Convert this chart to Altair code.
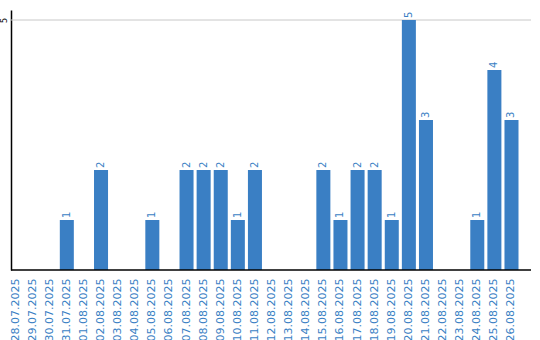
import altair as alt
import pandas as pd

dates = ["28.07.2025", "29.07.2025", "30.07.2025", "31.07.2025", "01.08.2025",
         "02.08.2025", "03.08.2025", "04.08.2025", "05.08.2025", "06.08.2025",
         "07.08.2025", "08.08.2025", "09.08.2025", "10.08.2025", "11.08.2025",
         "12.08.2025", "13.08.2025", "14.08.2025", "15.08.2025", "16.08.2025",
         "17.08.2025", "18.08.2025", "19.08.2025", "20.08.2025", "21.08.2025",
         "22.08.2025", "23.08.2025", "24.08.2025", "25.08.2025", "26.08.2025"]
values = [0, 0, 0, 1, 0, 2, 0, 0, 1, 0, 2, 2, 2, 1, 2, 0, 0, 0, 2, 1,
          2, 2, 1, 5, 3, 0, 0, 1, 4, 3]
grid_values = [5]

df = pd.DataFrame({"date": dates, "value": values})
grid_df = pd.DataFrame({"g": grid_values})
BLUE = "#3a7fc4"

x = alt.X("date:N", sort=dates, title=None,
          scale=alt.Scale(range=[-2.5, 507.5], paddingInner=0.18, paddingOuter=0),
          axis=alt.Axis(labelAngle=270, labelColor=BLUE, labelFontSize=11,
                        labelFont="DejaVu Sans", ticks=False, domain=False,
                        labelPadding=8, labelOverlap=False))
yscale = alt.Scale(domain=[0, 5.2], nice=False, zero=True)
yaxis = alt.Axis(values=[5], labelAngle=270, labelFontSize=8, labelColor="black",
                 labelFont="DejaVu Sans", ticks=False, domainColor="black",
                 domainWidth=1.5, grid=False, labelPadding=3,
                 labelAlign="center", labelBaseline="bottom")

grid = alt.Chart(grid_df).mark_rule(color="#c8c8c8", strokeWidth=1).encode(
    y=alt.Y("g:Q", scale=yscale, axis=yaxis, title=None),
    x=alt.value(0), x2=alt.value(520))
bars = alt.Chart(df).mark_bar(color=BLUE).encode(
    x=x, y=alt.Y("value:Q", title=None, scale=yscale, axis=yaxis))
labels = alt.Chart(df).transform_filter("datum.value > 0").mark_text(
    angle=270, align="left", baseline="middle", dx=2, fontSize=10,
    color=BLUE, font="DejaVu Sans").encode(
    x=x, y=alt.Y("value:Q", title=None, scale=yscale, axis=yaxis), text="value:Q")
xline = alt.Chart(grid_df).mark_rule(color="black", strokeWidth=1.5).encode(
    y=alt.value(260), x=alt.value(0), x2=alt.value(520))

chart = (grid + bars + labels + xline).properties(
    width=520, height=260,
    autosize=alt.AutoSizeParams(type="none"),
    padding={"left": 11, "top": 10, "right": 9, "bottom": 70},
).configure_view(stroke=None)

chart.save("out.html", embed_options={"renderer": "svg", "actions": False})
